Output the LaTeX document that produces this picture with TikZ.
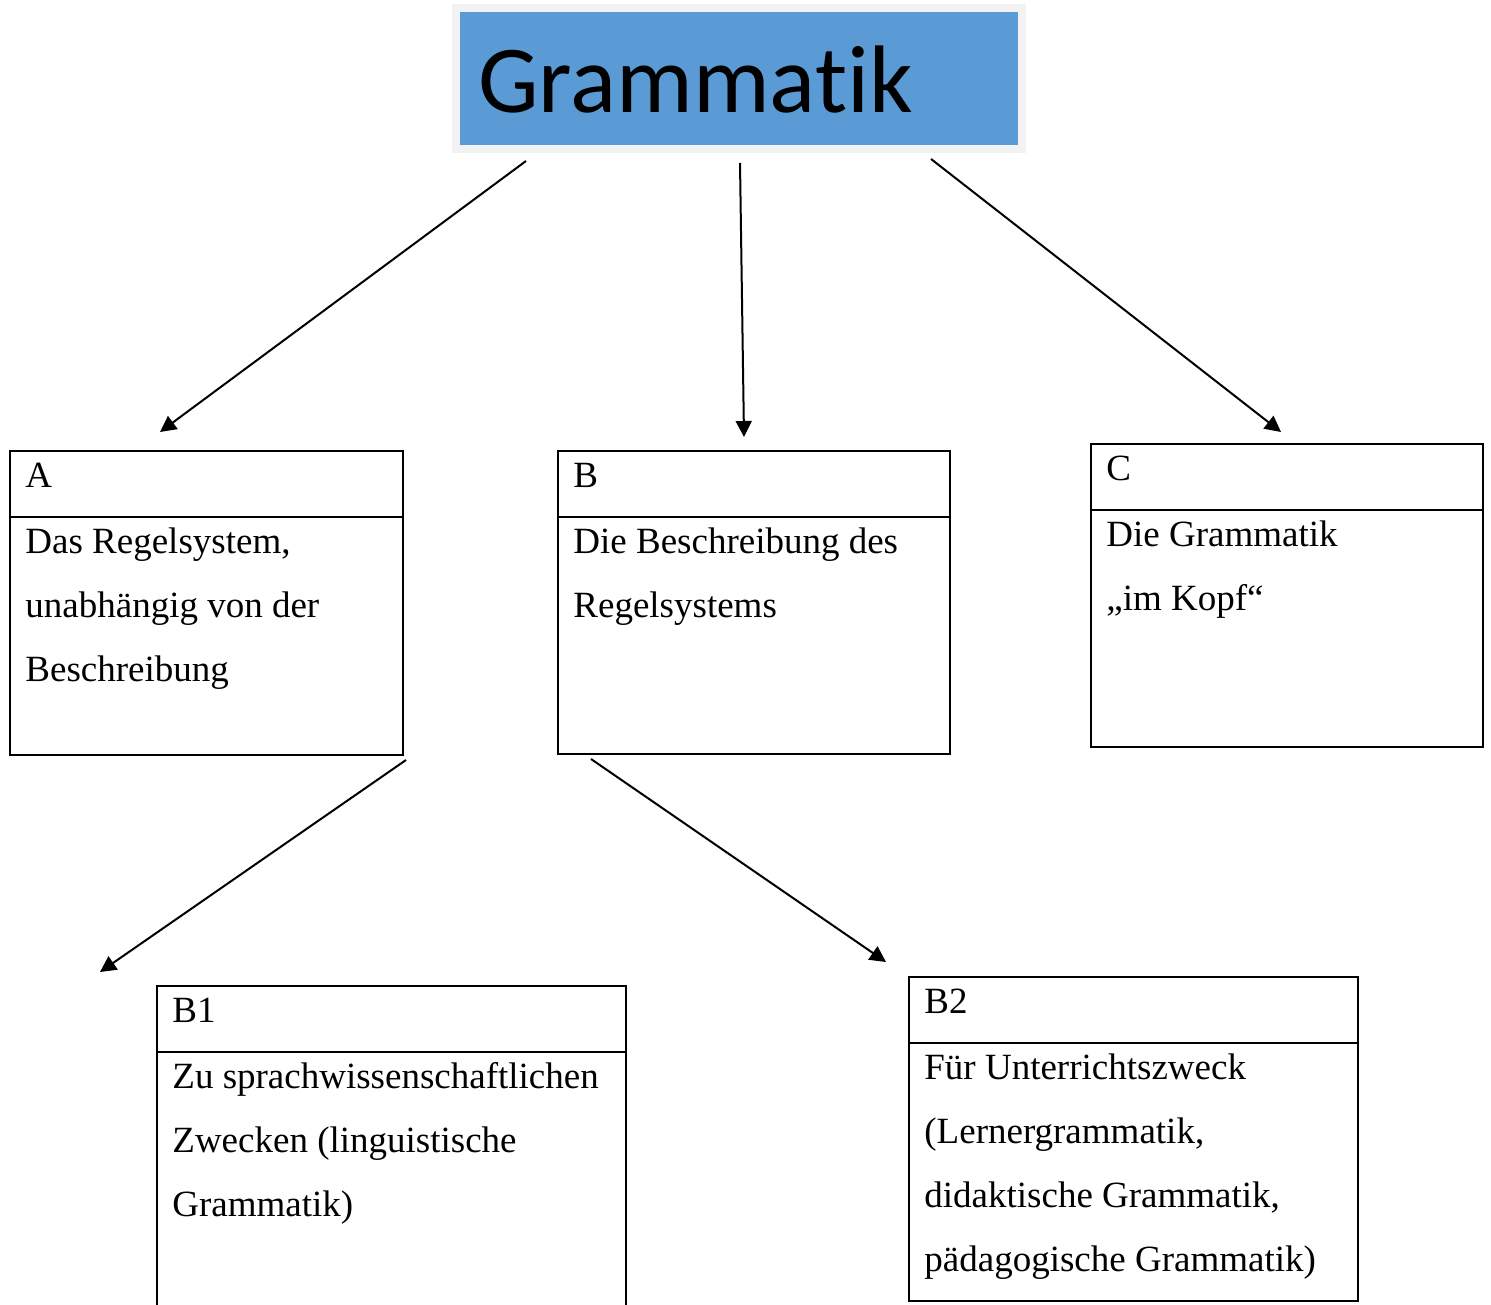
\documentclass[tikz,border=0pt]{standalone}
\usepackage{fontspec}
\setmainfont{Liberation Serif}
\newfontfamily\titlefont[Ligatures=NoCommon]{Carlito}
\usetikzlibrary{arrows.meta}

\definecolor{titleblue}{HTML}{5B9BD5}
\definecolor{titleframe}{HTML}{F2F2F2}

\tikzset{
  boxline/.style={line width=1.2pt},
  boxtext/.style={anchor=base west, inner sep=0pt, align=left, font=\fontsize{18.5}{32}\selectfont},
  linkarrow/.style={line width=1pt, -{Triangle[length=8pt,width=8pt]}}
}

\begin{document}
\begin{tikzpicture}[x=0.5pt, y=-0.5pt]
\useasboundingbox (0,0) rectangle (1491,1304);

% title box
\fill[titleframe] (452,4) rectangle (1026,153);
\fill[titleblue] (460,12) rectangle (1018,145);
\node[anchor=base west, inner sep=0pt, font=\titlefont\fontsize{48}{48}\selectfont] (title) at (478,113) {Grammatik};

% boxes with header line
\foreach \bx/\x/\y/\w/\h in {A/10/451/393/304, B/558/451/392/303, C/1091/444/392/303, B2/909/977/449/324} {
\draw[boxline] (\x,\y) rectangle ++(\w,\h);
\draw[boxline] (\x,\y+66) -- ++(\w,0);
\node[boxtext] (lab\bx) at (\x+15,\y+36) {\bx};
}
\draw[boxline] (157,1310) -- (157,986) -- (626,986) -- (626,1310);
\draw[boxline] (157,1052) -- (626,1052);
\node[boxtext] (labB1) at (172,1022) {B1};

% body texts (base = last line)
\node[boxtext] (txtA) at (25,681) {Das Regelsystem,\\unabhängig von der\\Beschreibung};
\node[boxtext] (txtB) at (573,617) {Die Beschreibung des\\Regelsystems};
\node[boxtext] (txtC) at (1106,610) {Die Grammatik\\„im Kopf“};
\node[boxtext] (txtB1) at (172,1216) {Zu sprachwissenschaftlichen\\Zwecken (linguistische\\Grammatik)};
\node[boxtext] (txtB2) at (924,1271) {Für Unterrichtszweck\\(Lernergrammatik,\\didaktische Grammatik,\\pädagogische Grammatik)};

% arrow ends
\coordinate (tA) at (526,161);  \coordinate (hA) at (160,432);
\coordinate (tB) at (740,163);  \coordinate (hB) at (744,437);
\coordinate (tC) at (931,159);  \coordinate (hC) at (1281,432);
\coordinate (tB1) at (406,760); \coordinate (hB1) at (100,972);
\coordinate (tB2) at (591,759); \coordinate (hB2) at (886,962);

\foreach \a in {A,B,C,B1,B2} \draw[linkarrow] (t\a) -- (h\a);
\end{tikzpicture}
\end{document}
